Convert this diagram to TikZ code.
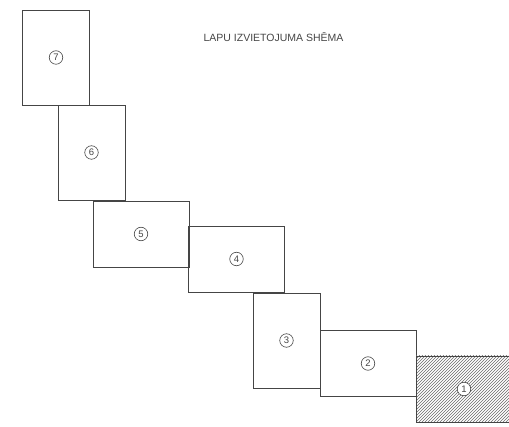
\documentclass[tikz,border=0pt]{standalone}
\usepackage{fontspec}
\setmainfont{Liberation Sans}
\usetikzlibrary{patterns}
\definecolor{inkgray}{HTML}{454545}

\begin{document}
\begin{tikzpicture}[
    x=1pt, y=-1pt,
    font=\fontsize{10.5}{12}\selectfont,
    sheet/.style={draw=inkgray, line width=0.7pt, inner sep=0pt},
    upright/.style={sheet, minimum width=67pt, minimum height=95pt},
    wide/.style={sheet, minimum width=96pt, minimum height=66pt},
    num/.style={circle, draw=inkgray, fill=white, line width=0.6pt, inner sep=0pt,
                minimum size=13.5pt, text=inkgray, font=\fontsize{9.5}{11}\selectfont}
]
  \useasboundingbox (0,0) rectangle (509,427);

  \node[inkgray] (title) at (273.5,37) {LAPU IZVIETOJUMA SHĒMA};

  % sheets, top left to bottom right
  \node[upright] (s7) at (56,57.5) {};
  \node[upright] (s6) at (91.5,152.5) {};
  \node[wide] (s5) at (141,234) {};
  \node[wide] (s4) at (236.5,259) {};
  \node[upright] (s3) at (286.5,340.5) {};
  \node[wide] (s2) at (368,363.5) {};
  \node[wide, pattern=north east lines, pattern color=inkgray!80] (s1) at (464,389) {};

  \foreach \n in {1,...,7}
    \node[num] (n\n) at (s\n) {\n};
\end{tikzpicture}
\end{document}
